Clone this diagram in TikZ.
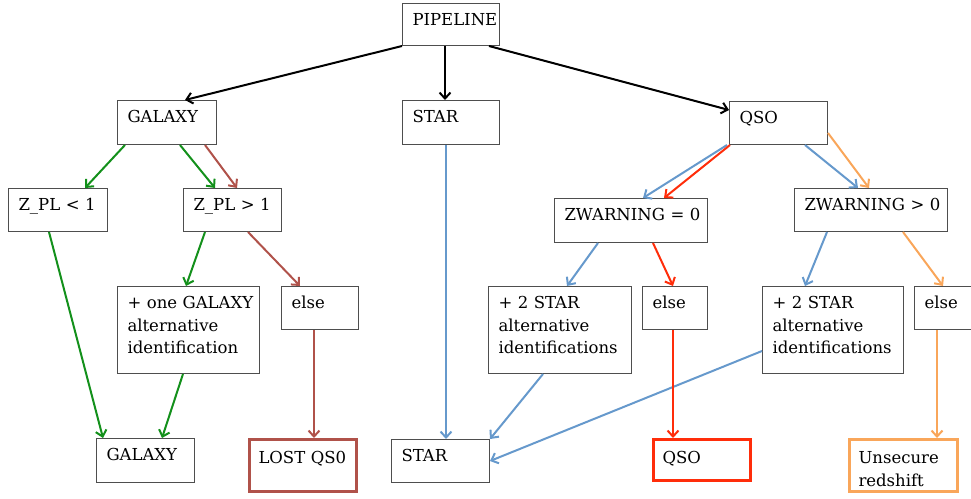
\documentclass[tikz,border=0pt]{standalone}
\usepackage{fontspec}
\setmainfont{DejaVu Serif}
\usetikzlibrary{arrows.meta}
\definecolor{cInk}{HTML}{222222}
\definecolor{cGreen}{HTML}{13901B}
\definecolor{cBrown}{HTML}{B0524A}
\definecolor{cBlue}{HTML}{6699CC}
\definecolor{cRed}{HTML}{FF2D0A}
\definecolor{cOrange}{HTML}{F9A65A}

\begin{document}
\begin{tikzpicture}[
    x=1pt, y=-1pt,
    >={Straight Barb[length=6pt,width=11pt]},
    box/.style={
        rectangle, draw=cInk!80, line width=1pt, anchor=north west,
        align=left, inner xsep=10pt, inner ysep=0pt, text height=22pt,
        font=\fontsize{16.5}{22.5}\selectfont
    },
    short/.style={box, text depth=21pt},
    tall/.style={box, text depth=65pt},
    result/.style={box, line width=3pt, inner xsep=9pt, text height=24pt},
    flow/.style={->, line width=2pt},
]
\clip (0,0) rectangle (971,498);

% =====================================================
% Top rows
% =====================================================

\node[box, text width=77pt, text depth=20pt] (pipe)   at (402,3)   {PIPELINE};
\node[short, text width=79pt, text depth=22pt] (galaxy) at (117,100) {GALAXY};
\node[short, text width=77pt, text depth=22pt] (star)   at (402,100) {STAR};
\node[short, text width=78pt]                  (qso)    at (729,101) {QSO};

\node[short, text width=79pt]  (zplA) at (8,188)   {Z\_PL < 1};
\node[short, text width=78pt]  (zplB) at (183,188) {Z\_PL > 1};
\node[short, text width=133pt, text depth=22pt] (zwA) at (554,198) {\mbox{ZWARNING = 0}};
\node[short, text width=133pt] (zwB)  at (794,188) {\mbox{ZWARNING > 0}};

% =====================================================
% Alternatives
% =====================================================

\node[tall,  text width=122pt] (altgal)   at (117,286) {\mbox{+ one GALAXY}\\alternative\\identification};
\node[short, text width=57pt]  (elseA)    at (281,286) {else};
\node[tall,  text width=123pt] (altstarA) at (488,286) {+ 2 STAR\\alternative\\identifications};
\node[short, text width=45pt]  (elseB)    at (642,286) {else};
\node[tall,  text width=121pt] (altstarB) at (762,286) {+ 2 STAR\\alternative\\identifications};
\node[short, text width=50pt]  (elseC)    at (914,286) {else};

% =====================================================
% Results
% =====================================================

\node[short, text width=78pt, text depth=22pt] (galbot)  at (96,438)  {GALAXY};
\node[result, draw=cBrown, text width=89pt, text depth=28pt]  (lost)    at (248,438) {LOST QS0};
\node[short, text width=78pt]  (starbot) at (391,439) {STAR};
\node[result, draw=cRed, text width=79pt, text depth=17pt]    (qsobot)  at (652,438) {QSO};
\node[result, draw=cOrange, text width=90pt, text depth=28pt] (unsec)   at (848,438) {Unsecure\\redshift};

% =====================================================
% Connectors
% =====================================================

% pipeline split
\draw[flow, draw=black] (pipe.south west) -- ([xshift=68pt]galaxy.north west);
\draw[flow, draw=black] ([xshift=43pt]pipe.south west) -- ([xshift=43pt]star.north west);
\draw[flow, draw=black] ([xshift=87pt]pipe.south west) -- ([yshift=-9pt]qso.north west);

% galaxy branch
\draw[flow, draw=cGreen] ([xshift=8pt]galaxy.south west) -- ([xshift=77pt]zplA.north west);
\draw[flow, draw=cGreen] ([xshift=63pt]galaxy.south west) -- ([xshift=32pt]zplB.north west);
\draw[flow, draw=cBrown] ([xshift=88pt]galaxy.south west) -- ([xshift=54pt]zplB.north west);
\draw[flow, draw=cGreen] ([xshift=41pt]zplA.south west) -- ([xshift=7pt]galbot.north west);
\draw[flow, draw=cGreen] ([xshift=22pt]zplB.south west) -- ([xshift=69pt]altgal.north west);
\draw[flow, draw=cBrown] ([xshift=65pt]zplB.south west) -- ([xshift=19pt]elseA.north west);
\draw[flow, draw=cGreen] ([xshift=66pt]altgal.south west) -- ([xshift=66pt]galbot.north west);
\draw[flow, draw=cBrown] ([xshift=33pt]elseA.south west) -- ([xshift=66pt]lost.north west);

% star branch
\draw[flow, draw=cBlue] ([xshift=44pt]star.south west) -- ([xshift=55pt]starbot.north west);

% qso branch
\draw[flow, draw=cBlue]   ([xshift=-2pt]qso.south west) -- ([xshift=89pt]zwA.north west);
\draw[flow, draw=cRed]    ([xshift=1pt]qso.south west)  -- ([xshift=110pt]zwA.north west);
\draw[flow, draw=cBlue]   ([xshift=76pt]qso.south west) -- ([xshift=64pt]zwB.north west);
\draw[flow, draw=cOrange] ([yshift=-32pt]qso.north east) -- ([xshift=75pt]zwB.north west);
\draw[flow, draw=cBlue]   ([xshift=44pt]zwA.south west) -- ([xshift=79pt]altstarA.north west);
\draw[flow, draw=cRed]    ([xshift=99pt]zwA.south west) -- ([xshift=31pt]elseB.north west);
\draw[flow, draw=cBlue]   ([xshift=33pt]zwB.south west) -- ([xshift=43pt]altstarB.north west);
\draw[flow, draw=cOrange] ([xshift=109pt]zwB.south west) -- ([xshift=29pt]elseC.north west);
\draw[flow, draw=cBlue]   ([xshift=55pt]altstarA.south west) -- (starbot.north east);
\draw[flow, draw=cBlue]   ([yshift=-65pt]altstarB.north west) -- ([yshift=-22pt]starbot.north east);
\draw[flow, draw=cRed]    ([xshift=31pt]elseB.south west) -- ([xshift=21pt]qsobot.north west);
\draw[flow, draw=cOrange] ([xshift=23pt]elseC.south west) -- ([xshift=89pt]unsec.north west);

\end{tikzpicture}
\end{document}
